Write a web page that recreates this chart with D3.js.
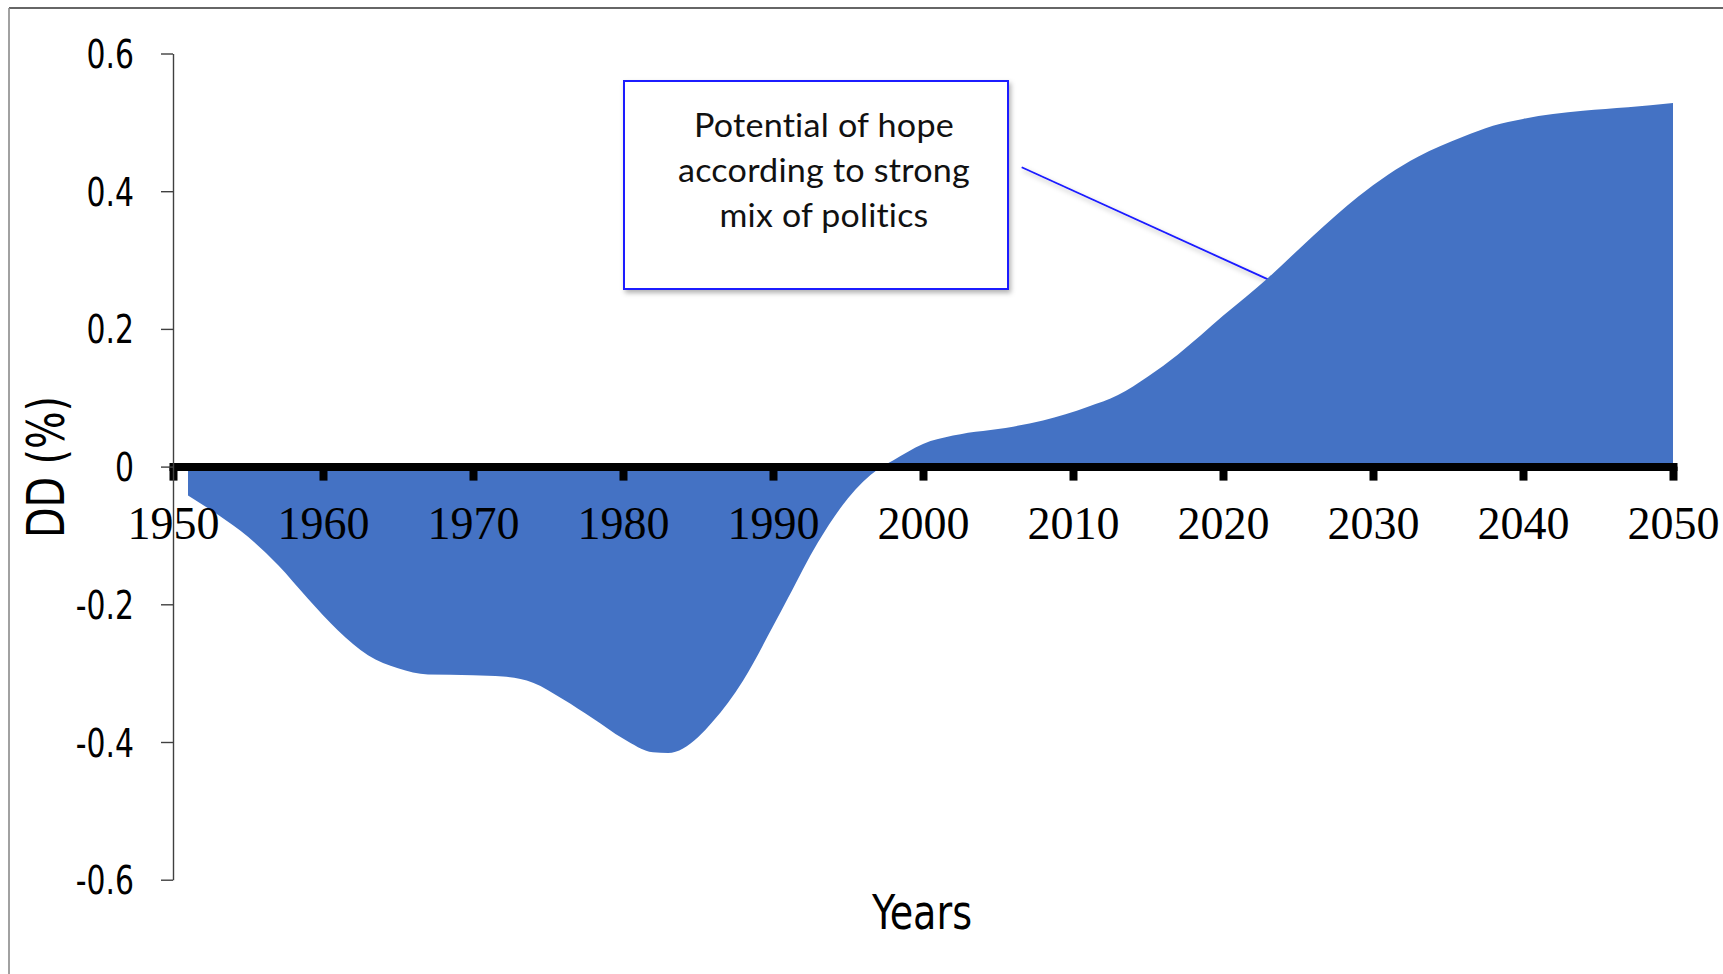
<!DOCTYPE html>
<html>
<head>
<meta charset="utf-8">
<script src="https://cdn.jsdelivr.net/npm/d3@7"></script>
<style>
     html, body { margin: 0; padding: 0; background: #fff; }
     svg { display: block; }
     .note { font-variant-ligatures: none; font-feature-settings: "liga" 0, "clig" 0, "dlig" 0, "calt" 0; letter-spacing: 0.2px; }
</style>
</head>
<body>
<div id="chart"></div>
<script>
// ── Data ────────────────────────────────────────────────
const years = [1951, 1953, 1955, 1957, 1959, 1961, 1963, 1965, 1967, 1970, 1972, 1974, 1976, 1978, 1980,
     1982, 1983, 1985, 1986, 1988, 1990, 1991, 1993, 1995, 1997, 1998, 2000, 2002, 2006, 2008,
     2011, 2013, 2015, 2017, 2020, 2023, 2026, 2029, 2031, 2033, 2036, 2038, 2040, 2042, 2044, 2047, 2050];
const values = [-0.042, -0.070, -0.102, -0.143, -0.192, -0.238, -0.274, -0.293, -0.302, -0.303, -0.305, -0.314, -0.338, -0.366, -0.395,
     -0.415, -0.416, -0.393, -0.370, -0.311, -0.232, -0.191, -0.110, -0.046, -0.004, 0.009, 0.033, 0.045, 0.058, 0.067,
     0.087, 0.104, 0.131, 0.163, 0.219, 0.274, 0.335, 0.392, 0.424, 0.450, 0.479, 0.495, 0.505, 0.512, 0.517, 0.522, 0.528];
const xTicks = [1950, 1960, 1970, 1980, 1990, 2000, 2010, 2020, 2030, 2040, 2050];
const yTicks = [-0.6, -0.4, -0.2, 0, 0.2, 0.4, 0.6];
const noteLines = ['Potential of hope', 'according to strong', 'mix of politics'];
const noteWidths = [260, 292, 209];
const noteTarget = { year: 2023, value: 0.272 };

const W = 1723, H = 974;
const narrow = "'Liberation Sans Narrow','Arial Narrow','DejaVu Sans Condensed',sans-serif";

const x = d3.scaleLinear().domain([1950, 2050]).range([173, 1673]);
const y = d3.scaleLinear().domain([-0.6, 0.6]).range([879.7, 53.5]);

const svg = d3.select('#chart').append('svg')
     .attr('width', W).attr('height', H)
     .attr('viewBox', `0 0 ${W} ${H}`);

const defs = svg.append('defs');
const shadow = defs.append('filter').attr('id', 'shadow')
     .attr('x', '-10%').attr('y', '-10%').attr('width', '130%').attr('height', '140%');
shadow.append('feDropShadow').attr('dx', 2).attr('dy', 3).attr('stdDeviation', 2.5)
     .attr('flood-color', '#000').attr('flood-opacity', 0.3);

// frame (cropped picture: top and left edges only)
svg.append('line').attr('x1', 9).attr('x2', W).attr('y1', 8).attr('y2', 8)
     .attr('stroke', '#333').attr('stroke-width', 1.6);
svg.append('line').attr('x1', 9).attr('x2', 9).attr('y1', 8).attr('y2', H)
     .attr('stroke', '#8a8a8a').attr('stroke-width', 1.6);

// ── Area ──────────────────────────────────────────────
const pts = years.map((yr, i) => ({ yr, v: values[i] }));
const area = d3.area()
     .x(d => x(d.yr))
     .y0(y(0))
     .y1(d => y(d.v))
     .curve(d3.curveMonotoneX);

// leader line from the note to the curve
svg.append('line')
     .attr('x1', 1021.7).attr('y1', 167.3)
     .attr('x2', x(noteTarget.year)).attr('y2', y(noteTarget.value))
     .attr('stroke', '#1a1aff').attr('stroke-width', 1.8)
     .attr('filter', 'url(#shadow)');

svg.append('path').datum(pts)
     .attr('d', area)
     .attr('fill', '#4472C4');

// ── Note box ──────────────────────────────────────────
svg.append('rect')
     .attr('x', 624).attr('y', 81).attr('width', 384).attr('height', 208)
     .attr('fill', '#fff').attr('stroke', '#1a1aff').attr('stroke-width', 2)
     .attr('filter', 'url(#shadow)');
svg.append('g').selectAll('text')
     .data(noteLines)
     .join('text')
     .attr('class', 'note')
     .attr('x', 824)
     .attr('y', (_, i) => 137.3 + i * 44.7)
     .attr('text-anchor', 'middle')
     .attr('font-family', "Lato,'Open Sans',sans-serif")
     .attr('font-size', '32px')
     .attr('textLength', (_, i) => noteWidths[i])
     .attr('lengthAdjust', 'spacingAndGlyphs')
     .attr('fill', '#111')
     .text(d => d);

// ── X axis (thick zero line) ──────────────────────────
const xAxis = svg.append('g')
     .attr('transform', `translate(0,${y(0)})`)
     .call(d3.axisBottom(x).tickValues(xTicks).tickSizeInner(14).tickSizeOuter(0).tickFormat(d3.format('d')));
xAxis.select('.domain').attr('stroke', '#000').attr('stroke-width', 8).attr('stroke-linecap', 'square');
xAxis.selectAll('.tick line').attr('stroke', '#000').attr('stroke-width', 8);
xAxis.selectAll('.tick text')
     .attr('y', 72.5).attr('dy', 0)
     .attr('fill', '#000')
     .attr('font-family', "'Liberation Serif','Times New Roman',serif")
     .attr('font-size', '46px');

// ── Y axis ────────────────────────────────────────────
const yAxis = svg.append('g')
     .attr('transform', `translate(${x(1950)},0)`)
     .call(d3.axisLeft(y).tickValues(yTicks).tickSize(12).tickSizeOuter(0)
          .tickFormat(d => d === 0 ? '0' : d.toFixed(1)));
yAxis.select('.domain').attr('stroke', '#404040').attr('stroke-width', 1.4);
yAxis.selectAll('.tick line').attr('stroke', '#404040').attr('stroke-width', 1.4);
yAxis.selectAll('.tick text')
     .attr('x', 0).attr('dy', '0.36em')
     .attr('transform', 'translate(-39,0) scale(0.85,1)')
     .attr('fill', '#000')
     .attr('font-family', narrow)
     .attr('font-size', '39px');

// ── Titles ────────────────────────────────────────────
svg.append('text')
     .attr('transform', 'translate(63.5,467) rotate(-90)')
     .attr('text-anchor', 'middle')
     .attr('font-family', narrow)
     .attr('font-size', '52px')
     .attr('textLength', 142)
     .attr('lengthAdjust', 'spacingAndGlyphs')
     .attr('fill', '#000')
     .text('DD (%)');

svg.append('text')
     .attr('x', 922).attr('y', 929)
     .attr('text-anchor', 'middle')
     .attr('font-family', narrow)
     .attr('font-size', '48px')
     .attr('textLength', 100)
     .attr('lengthAdjust', 'spacingAndGlyphs')
     .attr('fill', '#000')
     .text('Years');
</script>
</body>
</html>
